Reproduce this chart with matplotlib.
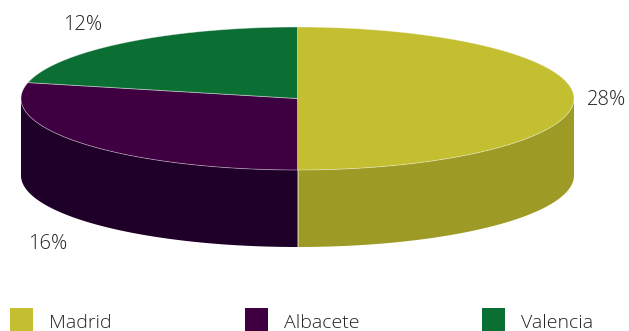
import matplotlib
matplotlib.use("Agg")
import matplotlib.pyplot as plt
from matplotlib.patches import Polygon, Rectangle
import numpy as np

plt.rcParams['font.family'] = ['Open Sans', 'DejaVu Sans']

# data
labels = ['Madrid', 'Albacete', 'Valencia']
values = [28, 16, 12]
top_colors = ['#C4BF30', '#3E0040', '#0B6E33']
side_colors = ['#9D9B25', '#1F0028', '#08532A']

# pie geometry (pixels)
cx, cy = 297.5, 98.5
rx, ry = 276.5, 71.5
depth = 77
label_pos = [(607, 105), (48, 249), (83, 30)]
text_color = '#222222'

fig = plt.figure(figsize=(6.29, 3.31), dpi=100)
ax = fig.add_axes([0, 0, 1, 1])
ax.set_xlim(0, 629)
ax.set_ylim(331, 0)
ax.axis('off')


def ell(theta, dz=0):
    t = np.radians(theta)
    return np.column_stack([cx + rx * np.cos(t), cy - ry * np.sin(t) + dz])


fracs = np.array(values, dtype=float) / sum(values)
starts = 90 - 360 * np.concatenate([[0], np.cumsum(fracs)[:-1]])
ends = starts - 360 * fracs

# sides (front half only: sin < 0)
for a1, a2, col in zip(starts, ends, side_colors):
    for k in range(-2, 2):
        lo = max(a2, -180 + 360 * k)
        hi = min(a1, 0 + 360 * k)
        if hi > lo:
            th = np.linspace(hi, lo, 200)
            top = ell(th)
            bot = ell(th[::-1], depth)
            ax.add_patch(Polygon(np.vstack([top, bot]), closed=True,
                                 facecolor=col, edgecolor='none', zorder=1))
# side seams
for a in starts:
    if np.sin(np.radians(a)) < 0:
        p = ell(np.array([a]))[0]
        ax.plot([p[0], p[0]], [p[1], p[1] + depth], color='white', lw=0.6,
                alpha=0.5, zorder=2)

# tops
for a1, a2, col in zip(starts, ends, top_colors):
    th = np.linspace(a1, a2, 300)
    pts = np.vstack([[cx, cy], ell(th)])
    ax.add_patch(Polygon(pts, closed=True, facecolor=col,
                         edgecolor=(1, 1, 1, 0.45), lw=0.6, zorder=3))

# percentage labels
for v, (x, y) in zip(values, label_pos):
    ax.text(x, y, f'{v}%', ha='center', va='baseline', fontsize=14.5,
            fontweight='light', color=text_color)

# legend
leg_x = [10, 245, 482]
for lab, col, x in zip(labels, top_colors, leg_x):
    ax.add_patch(Rectangle((x, 308), 23, 30, facecolor=col, edgecolor='none'))
    ax.text(x + 39, 328, lab, ha='left', va='baseline', fontsize=14,
            fontweight='light', color=text_color)

fig.savefig('out.png', dpi=100)
